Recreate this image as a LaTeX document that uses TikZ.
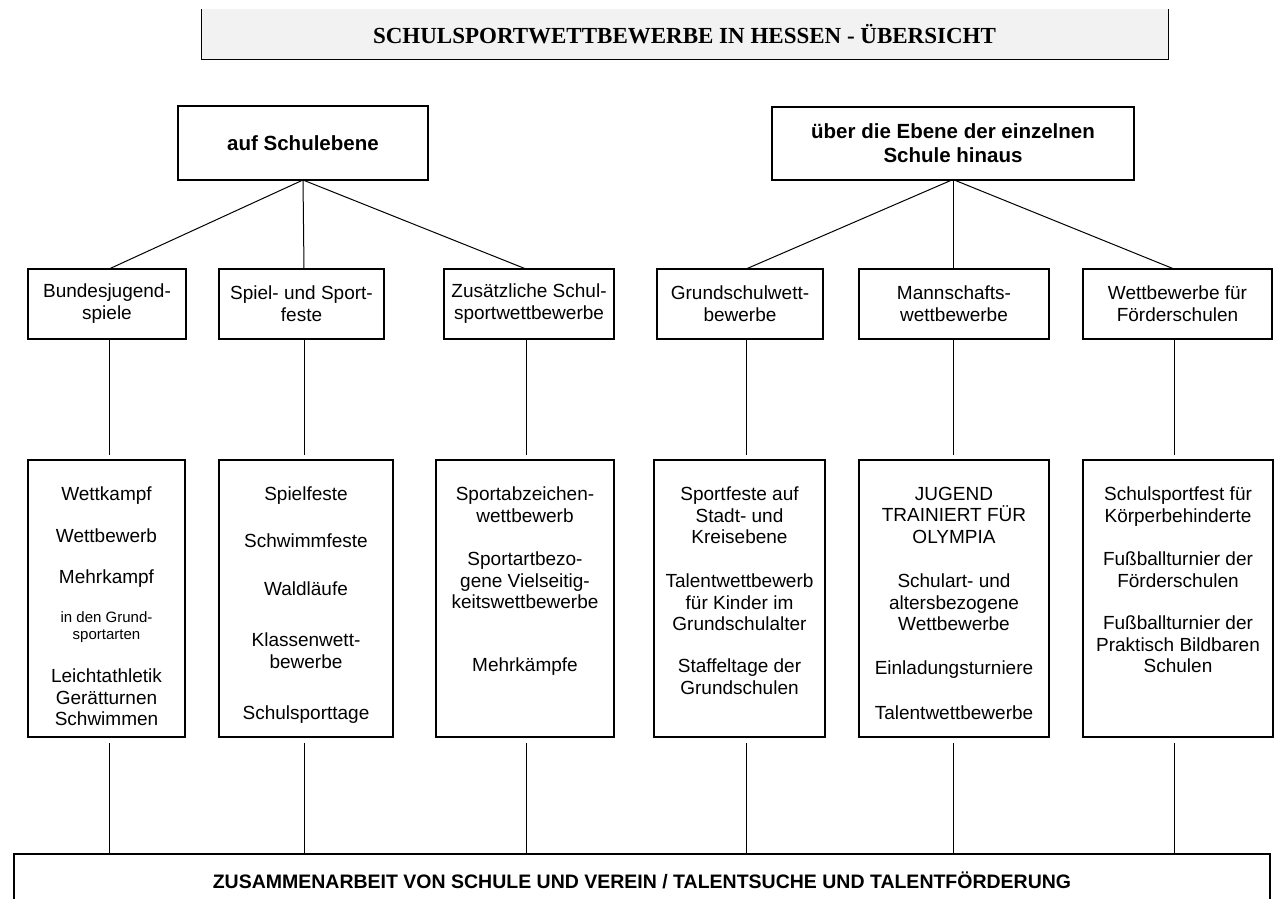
\documentclass[tikz,border=0pt]{standalone}
\usepackage{fontspec}
\setmainfont{Liberation Sans}
\newfontfamily\titlefont{Liberation Serif}
\definecolor{titlegray}{HTML}{F2F2F2}
\begin{document}
\begin{tikzpicture}[x=1pt,y=-1pt,
  box/.style={draw, line width=2pt, inner sep=0pt, outer sep=0pt, align=center},
  lvltwo/.style={box, minimum height=70pt, font=\fontsize{19}{22}\selectfont},
  lvlthree/.style={box, minimum height=277pt},
  entry/.style={anchor=north, inner sep=0pt, align=center, font=\fontsize{19}{21.5}\selectfont},
  smallentry/.style={entry, font=\fontsize{15}{17}\selectfont},
  link/.style={line width=1pt}]
\useasboundingbox (0,0) rectangle (1276,898);

% title
\node[fill=titlegray, minimum width=967pt, minimum height=50pt, inner sep=0pt, outer sep=0pt,
      font=\titlefont\bfseries\fontsize{23}{26}\selectfont] (title) at (684.5,34)
      {SCHULSPORTWETTBEWERBE IN HESSEN - ÜBERSICHT};
\draw[line width=1pt] (title.north west) -- (title.south west) -- (title.south east) -- (title.north east);

% column axes
\coordinate (x1) at (109,0);
\coordinate (x2) at (304,0);
\coordinate (x3) at (526,0);
\coordinate (x4) at (746,0);
\coordinate (x5) at (953,0);
\coordinate (x6) at (1174,0);

% top level
\node[box, minimum width=250pt, minimum height=74pt, font=\bfseries\fontsize{20.5}{24}\selectfont] (tl) at (303,143) {auf Schulebene};
\node[box, minimum width=362pt, minimum height=73pt, font=\bfseries\fontsize{20.5}{24}\selectfont] (tr) at (953,143) {über die Ebene der einzelnen\\Schule hinaus};

% second level
\node[lvltwo, minimum width=158pt] (b1) at (107,304) {Bundesjugend-\\spiele};
\node[lvltwo, minimum width=165pt] (b2) at (301.5,304) {Spiel- und Sport-\\feste};
\node[lvltwo, minimum width=170pt] (b3) at (529,304) {Zusätzliche Schul-\\sportwettbewerbe};
\node[lvltwo, minimum width=166pt] (b4) at (740,304) {Grundschulwett-\\bewerbe};
\node[lvltwo, minimum width=190pt] (b5) at (954,304) {Mannschafts-\\wettbewerbe};
\node[lvltwo, minimum width=189pt] (b6) at (1177.5,304) {Wettbewerbe für\\Förderschulen};

% third level boxes
\node[lvlthree, minimum width=157pt] (c1) at (106.5,598.5) {};
\node[lvlthree, minimum width=174pt] (c2) at (306,598.5) {};
\node[lvlthree, minimum width=178pt] (c3) at (525,598.5) {};
\node[lvlthree, minimum width=171pt] (c4) at (739.5,598.5) {};
\node[lvlthree, minimum width=190pt] (c5) at (954,598.5) {};
\node[lvlthree, minimum width=190pt] (c6) at (1178,598.5) {};

% third level contents
\node[entry] (e11) at (106.5,487) {Wettkampf};
\node[entry] (e12) at (106.5,529) {Wettbewerb};
\node[entry] (e13) at (106.5,570) {Mehrkampf};
\node[smallentry] (e14) at (106.5,611.6) {in den Grund-\\sportarten};
\node[entry] (e15) at (106.5,669) {Leichtathletik\\Gerätturnen\\Schwimmen};

\node[entry] (e21) at (306,487) {Spielfeste};
\node[entry] (e22) at (306,534) {Schwimmfeste};
\node[entry] (e23) at (306,582) {Waldläufe};
\node[entry] (e24) at (306,633) {Klassenwett-\\bewerbe};
\node[entry] (e25) at (306,706) {Schulsporttage};

\node[entry] (e31) at (525,487) {Sportabzeichen-\\wettbewerb};
\node[entry] (e32) at (525,552) {Sportartbezo-\\gene Vielseitig-\\keitswettbewerbe};
\node[entry] (e33) at (525,658) {Mehrkämpfe};

\node[entry] (e41) at (739.5,487) {Sportfeste auf\\Stadt- und\\Kreisebene};
\node[entry] (e42) at (739.5,574) {Talentwettbewerb\\für Kinder im\\Grundschulalter};
\node[entry] (e43) at (739.5,659) {Staffeltage der\\Grundschulen};

\node[entry] (e51) at (954,487) {JUGEND\\TRAINIERT FÜR\\OLYMPIA};
\node[entry] (e52) at (954,574) {Schulart- und\\altersbezogene\\Wettbewerbe};
\node[entry] (e53) at (954,661) {Einladungsturniere};
\node[entry] (e54) at (954,706) {Talentwettbewerbe};

\node[entry] (e61) at (1178,487) {Schulsportfest für\\Körperbehinderte};
\node[entry] (e62) at (1178,552) {Fußballturnier der\\Förderschulen};
\node[entry] (e63) at (1178,616) {Fußballturnier der\\Praktisch Bildbaren\\Schulen};

% bottom box
\node[minimum width=1256pt, minimum height=52pt, inner sep=0pt, outer sep=0pt,
      font=\bfseries\fontsize{19.5}{22}\selectfont] (bot) at (642,880)
      {ZUSAMMENARBEIT VON SCHULE UND VEREIN / TALENTSUCHE UND TALENTFÖRDERUNG};
\draw[line width=2pt] (bot.south west) -- (bot.north west) -- (bot.north east) -- (bot.south east);

% connectors top -> second level
\draw[link] (tl.south) -- (b1.north -| x1);
\draw[link] (tl.south) -- (b2.north -| x2);
\draw[link] (tl.south) -- (b3.north -| x3);
\draw[link] (tr.south) -- (b4.north -| x4);
\draw[link] (tr.south) -- (b5.north -| x5);
\draw[link] (tr.south) -- (b6.north -| x6);

% second -> third, third -> bottom
\foreach \i in {1,...,6}{
  \draw[link, shorten >=5pt] (b\i.south -| x\i) -- (c\i.north -| x\i);
  \draw[link, shorten <=6pt] (c\i.south -| x\i) -- (bot.north -| x\i);
}
\end{tikzpicture}
\end{document}
